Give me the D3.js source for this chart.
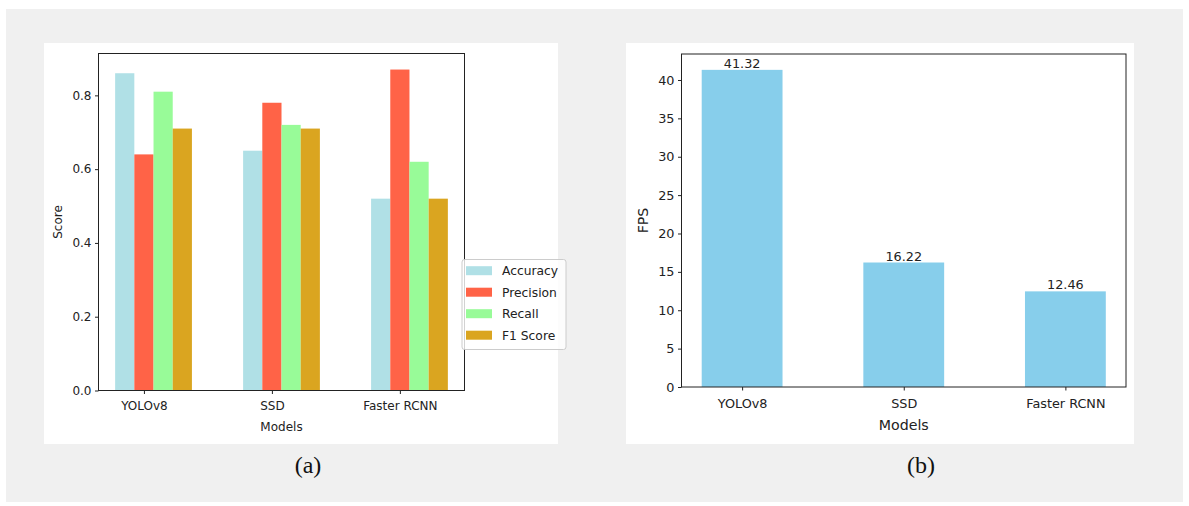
<!DOCTYPE html>
<html>
<head>
<meta charset="utf-8">
<script src="https://cdn.jsdelivr.net/npm/d3@7"></script>
<style>
  html, body { margin: 0; padding: 0; background: #ffffff; }
  svg { display: block; }
  .tick text { font-family: "DejaVu Sans", sans-serif; fill: #222; }
</style>
</head>
<body>
<svg id="fig" width="1189" height="506"></svg>
<script>
// Detection models compared in both panels
const models = ["YOLOv8", "SSD", "Faster RCNN"];

// Panel (a): per-metric scores
const metrics = ["Accuracy", "Precision", "Recall", "F1 Score"];
const accuracy = [0.86, 0.65, 0.52];
const precision = [0.64, 0.78, 0.87];
const recall = [0.81, 0.72, 0.62];
const f1Score = [0.71, 0.71, 0.52];
const metricColors = ["#b0e0e6", "#ff6347", "#98fb98", "#daa520"];
const scoreTicks = [0.0, 0.2, 0.4, 0.6, 0.8];

// Panel (b): inference speed
const fps = [41.32, 16.22, 12.46];
const fpsTicks = [0, 5, 10, 15, 20, 25, 30, 35, 40];

const svg = d3.select("#fig");
const font = '"DejaVu Sans", sans-serif';

// Grey page backdrop and the two white figure cards
svg.append("rect").attr("x", 6).attr("y", 9).attr("width", 1177).attr("height", 493).attr("fill", "#f0f0f0");
svg.append("rect").attr("x", 44).attr("y", 43).attr("width", 514).attr("height", 401).attr("fill", "#ffffff");
svg.append("rect").attr("x", 626).attr("y", 43).attr("width", 508).attr("height", 401).attr("fill", "#ffffff");

// ---------- Panel (a): grouped bars ----------
{
  const L = 98.5, T = 53.5, R = 464.5, B = 390.5;
  const series = [accuracy, precision, recall, f1Score];
  const bw = 0.15;
  const offsets = [-0.15, 0, 0.15, 0.3];
  const x = d3.scaleLinear().domain([-0.355, 2.505]).range([L, R]);
  const y = d3.scaleLinear().domain([0, 0.87 * 1.05]).range([B, T]);
  const g = svg.append("g");

  series.forEach((vals, s) => {
    g.selectAll(null).data(vals).enter().append("rect")
      .attr("x", (d, i) => x(i + offsets[s] - bw / 2))
      .attr("width", x(bw) - x(0))
      .attr("y", d => y(d))
      .attr("height", d => y(0) - y(d))
      .attr("fill", metricColors[s]);
  });

  const yAxis = g.append("g").attr("transform", `translate(${L},0)`)
    .call(d3.axisLeft(y).tickValues(scoreTicks).tickFormat(d3.format(".1f")).tickSize(3.5).tickPadding(3.5));
  yAxis.select(".domain").remove();
  yAxis.selectAll("text").attr("font-size", 12).style("font-family", font);
  yAxis.selectAll("line").attr("stroke", "#222");

  const xAxis = g.append("g").attr("transform", `translate(0,${B})`)
    .call(d3.axisBottom(x).tickValues([0, 1, 2]).tickFormat(i => models[i]).tickSize(3.5).tickPadding(7));
  xAxis.select(".domain").remove();
  xAxis.selectAll("text").attr("font-size", 12).style("font-family", font);
  xAxis.selectAll("line").attr("stroke", "#222");

  g.append("rect").attr("x", L).attr("y", T).attr("width", R - L).attr("height", B - T)
    .attr("fill", "none").attr("stroke", "#222").attr("stroke-width", 1);

  g.append("text").attr("x", (L + R) / 2).attr("y", 431).attr("text-anchor", "middle")
    .attr("font-family", font).attr("font-size", 12).attr("fill", "#222").text("Models");
  g.append("text").attr("transform", `translate(62,${(T + B) / 2}) rotate(-90)`).attr("text-anchor", "middle")
    .attr("font-family", font).attr("font-size", 12).attr("fill", "#222").text("Score");

  // Legend
  const lg = g.append("g").attr("transform", "translate(462,259.5)");
  lg.append("rect").attr("width", 104).attr("height", 90).attr("rx", 2.5)
    .attr("fill", "#ffffff").attr("fill-opacity", 0.8).attr("stroke", "#cccccc").attr("stroke-width", 1);
  metrics.forEach((m, k) => {
    const cy = 11.2 + k * 21.5;
    lg.append("rect").attr("x", 4).attr("y", cy - 4.5).attr("width", 26).attr("height", 9).attr("fill", metricColors[k]);
    lg.append("text").attr("x", 40).attr("y", cy).attr("dy", "0.36em")
      .attr("font-family", font).attr("font-size", 12.3).attr("fill", "#222").text(m);
  });
}

// ---------- Panel (b): FPS bars ----------
{
  const L = 681.5, T = 54, R = 1126, B = 387;
  const x = d3.scaleLinear().domain([-0.375, 2.375]).range([L, R]);
  const y = d3.scaleLinear().domain([0, 41.32 * 1.05]).range([B, T]);
  const g = svg.append("g");

  g.selectAll(null).data(fps).enter().append("rect")
    .attr("x", (d, i) => x(i - 0.25))
    .attr("width", x(0.5) - x(0))
    .attr("y", d => y(d))
    .attr("height", d => y(0) - y(d))
    .attr("fill", "#87ceeb");

  g.selectAll(null).data(fps).enter().append("text")
    .attr("x", (d, i) => x(i))
    .attr("y", d => y(d) - 2)
    .attr("text-anchor", "middle")
    .attr("font-family", font).attr("font-size", 12.8).attr("fill", "#222")
    .text(d => d.toFixed(2));

  const yAxis = g.append("g").attr("transform", `translate(${L},0)`)
    .call(d3.axisLeft(y).tickValues(fpsTicks).tickFormat(d3.format("d")).tickSize(3.5).tickPadding(3.5));
  yAxis.select(".domain").remove();
  yAxis.selectAll("text").attr("font-size", 12.8).style("font-family", font);
  yAxis.selectAll("line").attr("stroke", "#222");

  const xAxis = g.append("g").attr("transform", `translate(0,${B})`)
    .call(d3.axisBottom(x).tickValues([0, 1, 2]).tickFormat(i => models[i]).tickSize(3.5).tickPadding(8.5));
  xAxis.select(".domain").remove();
  xAxis.selectAll("text").attr("font-size", 12.8).style("font-family", font);
  xAxis.selectAll("line").attr("stroke", "#222");

  g.append("rect").attr("x", L).attr("y", T).attr("width", R - L).attr("height", B - T)
    .attr("fill", "none").attr("stroke", "#222").attr("stroke-width", 1);

  g.append("text").attr("x", (L + R) / 2).attr("y", 430).attr("text-anchor", "middle")
    .attr("font-family", font).attr("font-size", 14.2).attr("fill", "#222").text("Models");
  g.append("text").attr("transform", `translate(648,${(T + B) / 2}) rotate(-90)`).attr("text-anchor", "middle")
    .attr("font-family", font).attr("font-size", 14.2).attr("fill", "#222").text("FPS");
}

// Sub-figure captions
svg.append("text").attr("x", 308).attr("y", 473).attr("text-anchor", "middle")
  .attr("font-family", '"Liberation Serif", "Times New Roman", serif').attr("font-size", 24).attr("fill", "#111").text("(a)");
svg.append("text").attr("x", 921).attr("y", 473).attr("text-anchor", "middle")
  .attr("font-family", '"Liberation Serif", "Times New Roman", serif').attr("font-size", 24).attr("fill", "#111").text("(b)");
</script>
</body>
</html>
